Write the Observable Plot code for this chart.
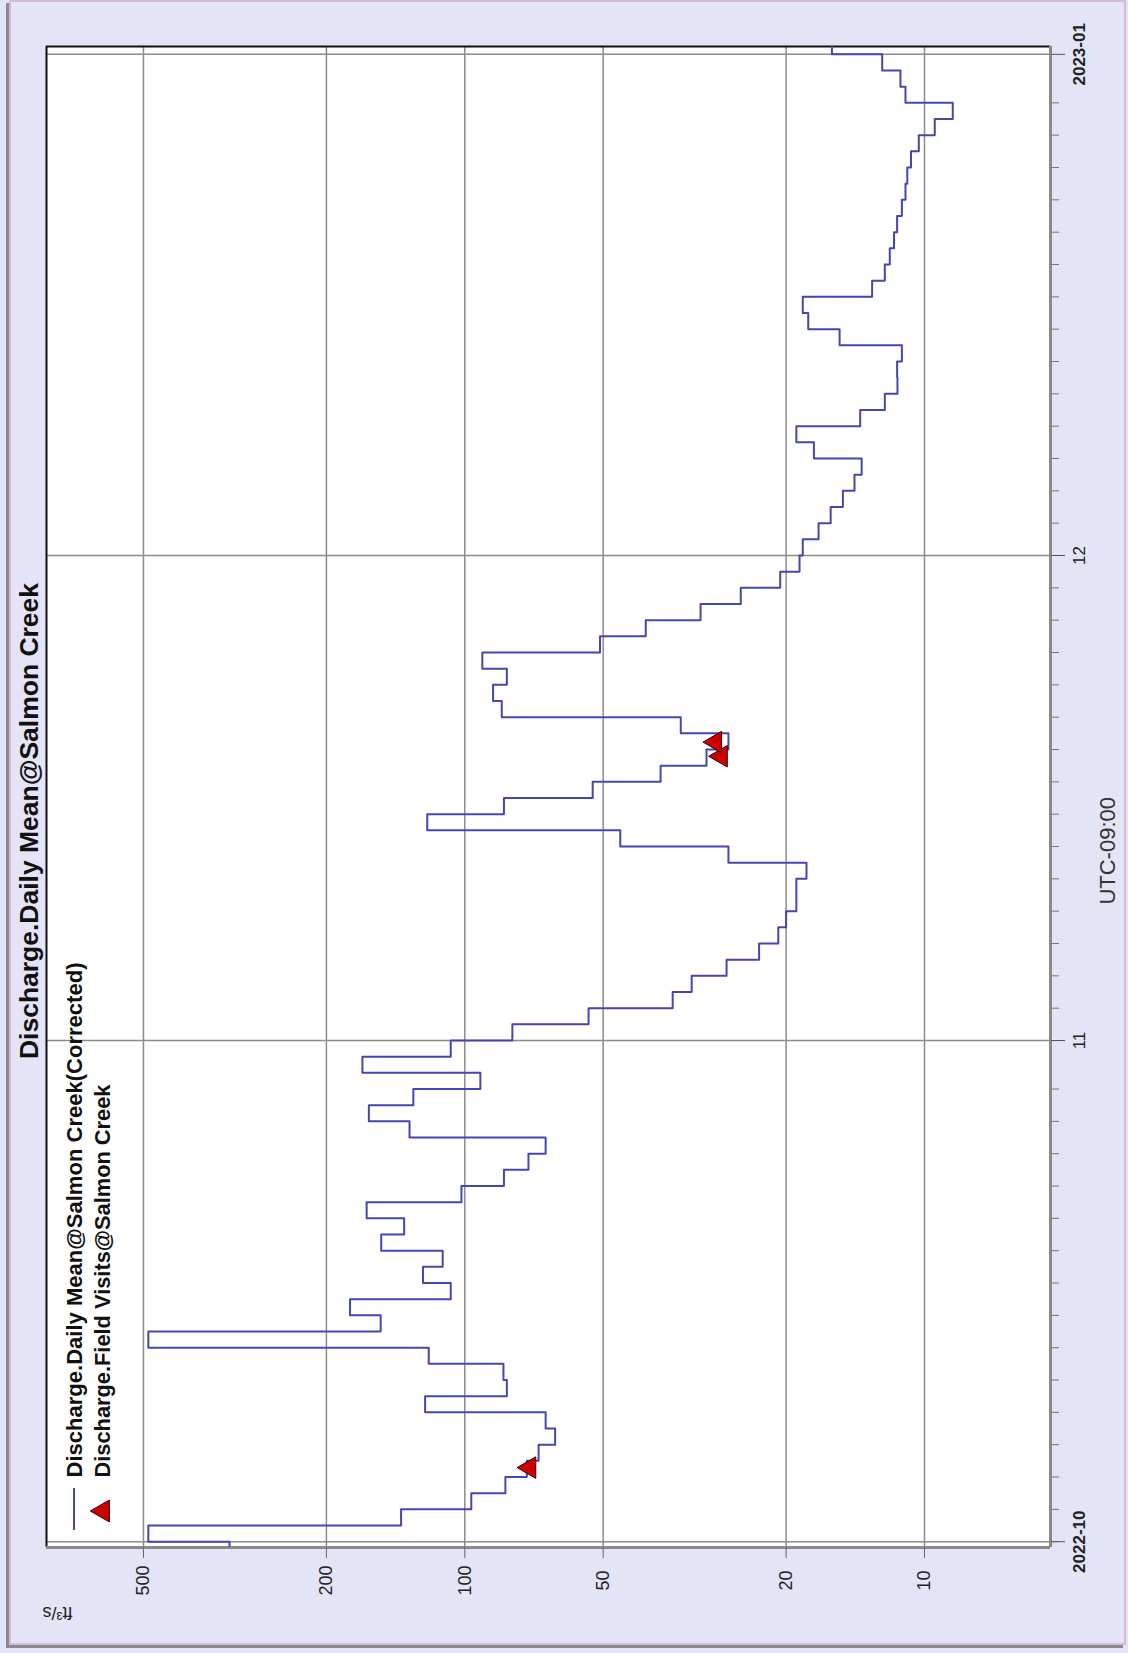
<!DOCTYPE html>
<html>
<head>
<meta charset="utf-8">
<script src="https://cdn.jsdelivr.net/npm/d3@7"></script>
<script src="https://cdn.jsdelivr.net/npm/@observablehq/plot@0.6"></script>
<style>
  html, body { margin: 0; padding: 0; background: #e4e4f7; }
  #wrap { position: relative; width: 1128px; height: 1653px; overflow: hidden; background: #e4e4f7; }
  #border { position: absolute; left: 9px; top: 0px; width: 1113px; height: 1641px; border: 2px solid #d9b6de; box-shadow: -3px 3px 0 #8a8a8a; }
  #chart { position: absolute; left: 0; top: 0; }
</style>
</head>
<body>
<div id="wrap"><div id="border"></div><div id="chart"></div></div>
<script>
// ---- data (daily mean discharge, ft³/s) ----
const sep30Value = 325;
const octValues = [488, 137.6, 96.8, 81.6, 73.3, 69.1, 63.6, 66.7, 122, 81.0,
                   82.4, 119.8, 488, 152.4, 177.7, 107.3, 123.3, 111.7, 152, 135.5,
                   163.5, 101.7, 82.2, 72.7, 66.7, 131.9, 161.7, 129.4, 92.5, 167, 107.3];
const novValues = [78.8, 53.8, 35.3, 32.1, 26.95, 22.9, 20.8, 20.0, 19.0, 19.0,
                   18.06, 26.7, 45.9, 120.7, 82.2, 52.7, 37.5, 29.8, 26.7, 33.9,
                   83.1, 86.8, 81.0, 91.6, 50.8, 40.4, 30.7, 25.1, 20.6, 18.7];
const decValues = [18.4, 17.0, 16.0, 15.05, 14.2, 13.7, 17.4, 19.0, 13.8, 12.2,
                   11.45, 11.47, 11.2, 15.3, 17.9, 18.4, 13.0, 12.2, 11.9, 11.65,
                   11.47, 11.2, 11.0, 10.9, 10.7, 10.29, 9.5, 8.68, 11.0, 11.28, 12.36];
const jan1Value = 15.9;
const firstDay = "2022-09-30T00:00:00Z";

// field visits
const visitDates = ["2022-10-05T14:00:00Z", "2022-11-18T14:00:00Z", "2022-11-19T11:00:00Z"];
const visitValues = [72.3, 27.7, 28.5];

// ticks and labels
const valueTicks = [10, 20, 50, 100, 200, 500];
const monthTickDates = ["2022-10-01", "2022-11-01", "2022-12-01", "2023-01-01"];
const monthTickLabels = ["2022-10", "11", "12", "2023-01"];
const monthTickBold = [true, false, false, true];
const minorTickMonths = ["2022-10-01", "2022-11-01", "2022-12-01"];
const minorTickDays = [1, 3, 5, 7, 9, 11, 13, 15, 17, 19, 21, 23, 25, 27, 29];

const titleText = "Discharge.Daily Mean@Salmon Creek";
const legendLabels = ["Discharge.Daily Mean@Salmon Creek(Corrected)", "Discharge.Field Visits@Salmon Creek"];
const unitText = "ft³/s";
const zoneText = "UTC-09:00";

// ---- build tables ----
const dailyValues = [sep30Value, ...octValues, ...novValues, ...decValues, jan1Value];
const start = new Date(firstDay);
const series = dailyValues.map((v, i) => ({date: d3.utcDay.offset(start, i), value: v}));
series.push({date: d3.utcDay.offset(start, dailyValues.length), value: dailyValues[dailyValues.length - 1]});
const visits = visitDates.map((d, i) => ({date: new Date(d), value: visitValues[i]}));
const monthRows = monthTickDates.map((d, i) => ({date: new Date(d), label: monthTickLabels[i], bold: monthTickBold[i]}));
const monthTicks = monthRows.map(d => d.date);
const minorTicks = minorTickMonths.flatMap(m => minorTickDays.map(day => d3.utcDay.offset(new Date(m), day - 1)));

const xDomain = [812.7, 5.32];
const yDomain = [new Date("2022-09-30T15:23:00Z"), new Date("2023-01-01T11:38:00Z")];
const lineColor = "#4646b2";
const font = "'Liberation Sans', Arial, Helvetica, sans-serif";

const chart = Plot.plot({
  width: 1128,
  height: 1653,
  marginLeft: 46,
  marginRight: 78,
  marginTop: 46,
  marginBottom: 106,
  style: {background: "transparent", fontFamily: font, color: "#111", overflow: "visible"},
  x: {type: "log", domain: xDomain},
  y: {type: "utc", domain: yDomain},
  marks: [
    Plot.frame({fill: "white", stroke: "none"}),
    Plot.ruleX(valueTicks, {stroke: "#8c8c8c", strokeWidth: 1.5}),
    Plot.ruleY(monthTicks, {stroke: "#8c8c8c", strokeWidth: 1.5}),
    Plot.ruleX([xDomain[0]], {stroke: "#111", strokeWidth: 2}),
    Plot.ruleY([yDomain[1]], {stroke: "#111", strokeWidth: 2}),
    Plot.ruleX([xDomain[1]], {stroke: "#8a8a8a", strokeWidth: 3}),
    Plot.ruleY([yDomain[0]], {stroke: "#8a8a8a", strokeWidth: 3}),
    Plot.axisX({anchor: "bottom", ticks: valueTicks, tickSize: 11, tickFormat: () => "", label: null, stroke: "#666"}),
    Plot.axisY({anchor: "right", ticks: minorTicks, tickSize: 8, tickFormat: () => "", label: null, stroke: "#777"}),
    Plot.axisY({anchor: "right", ticks: monthTicks, tickSize: 14, tickFormat: () => "", label: null, stroke: "#555"}),
    Plot.line(series, {x: "value", y: "date", curve: "step-before", stroke: lineColor, strokeWidth: 2, clip: true}),
    Plot.dot(visits, {x: "value", y: "date", symbol: "triangle", r: 8, rotate: -90, fill: "#cc0000", stroke: "#3a0000", strokeWidth: 1}),
    // value tick labels
    Plot.text(valueTicks, {x: d => d, text: d => String(d), frameAnchor: "bottom", dy: 33, rotate: -90,
      fontSize: 18, lineAnchor: "middle", textAnchor: "middle", fill: "#222"}),
    // month tick labels
    Plot.text(monthRows, {filter: d => d.bold, y: "date", text: "label", frameAnchor: "right", dx: 29, rotate: -90,
      fontSize: 17, fontWeight: "bold", lineAnchor: "middle", textAnchor: "middle", fill: "#222"}),
    Plot.text(monthRows, {filter: d => !d.bold, y: "date", text: "label", frameAnchor: "right", dx: 29, rotate: -90,
      fontSize: 17, lineAnchor: "middle", textAnchor: "middle", fill: "#222"}),
    Plot.text([zoneText], {frameAnchor: "right", dx: 57, rotate: -90, fontSize: 22, lineAnchor: "middle", fill: "#333"}),
    // title
    Plot.text([titleText], {frameAnchor: "left", dx: -17, dy: 262, rotate: -90, fontSize: 26, fontWeight: "bold",
      textAnchor: "start", lineAnchor: "middle", fill: "#111", className: "ttl"}),
    // unit
    Plot.text([unitText], {frameAnchor: "bottom-left", dx: 26, dy: 65, rotate: 180, fontSize: 18, lineAnchor: "middle", fill: "#222"}),
    // legend labels
    Plot.text([legendLabels[0]], {frameAnchor: "bottom-left", dx: 28, dy: -70, rotate: -90, textAnchor: "start",
      fontSize: 22, fontWeight: "bold", lineAnchor: "middle", fill: "#111", className: "lg1"}),
    Plot.text([legendLabels[1]], {frameAnchor: "bottom-left", dx: 56, dy: -70, rotate: -90, textAnchor: "start",
      fontSize: 22, fontWeight: "bold", lineAnchor: "middle", fill: "#111", className: "lg2"})
  ]
});

// legend symbols
const svg = d3.select(chart);
const lg = svg.append("g");
lg.append("line").attr("x1", 74).attr("x2", 74).attr("y1", 1530).attr("y2", 1488)
  .attr("stroke", lineColor).attr("stroke-width", 2);
lg.append("path").attr("d", d3.symbol(d3.symbolTriangle, 210)())
  .attr("transform", "translate(103,1511) rotate(-90)")
  .attr("fill", "#cc0000").attr("stroke", "#3a0000");

// fit text lengths to reference
svg.selectAll(".ttl text").attr("textLength", 476).attr("lengthAdjust", "spacingAndGlyphs");
svg.selectAll(".lg1 text").attr("textLength", 515).attr("lengthAdjust", "spacingAndGlyphs");
svg.selectAll(".lg2 text").attr("textLength", 393).attr("lengthAdjust", "spacingAndGlyphs");

document.getElementById("chart").appendChild(chart);
</script>
</body>
</html>
